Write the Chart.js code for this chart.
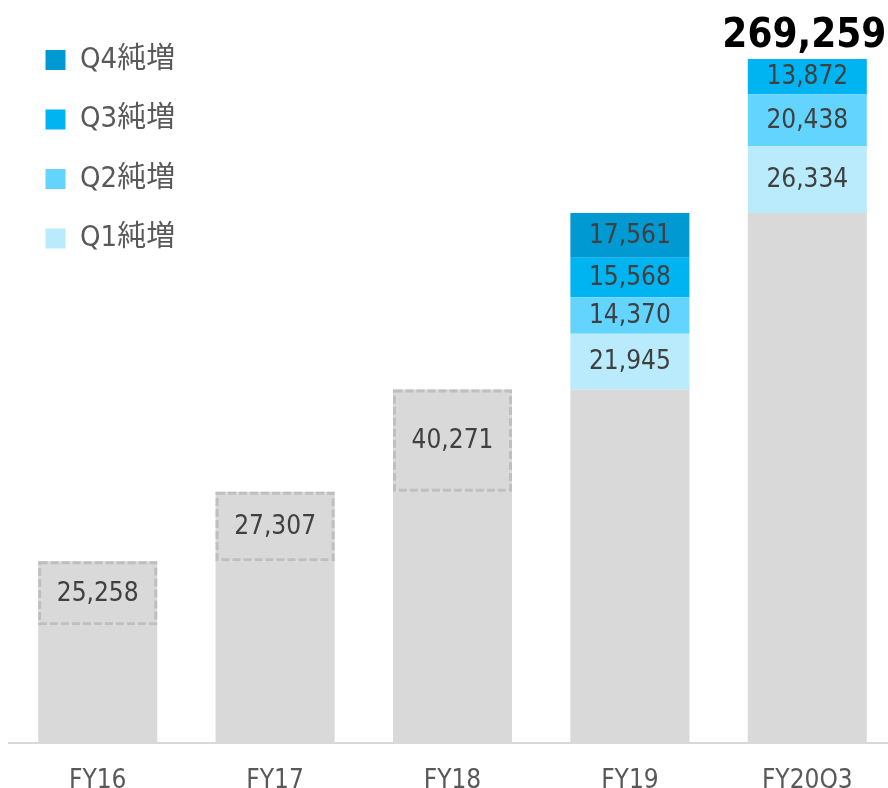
<!DOCTYPE html>
<html>
<head>
<meta charset="utf-8">
<script src="https://cdn.jsdelivr.net/npm/chart.js@4.4.1/dist/chart.umd.min.js"></script>
<style>
  html, body { margin: 0; padding: 0; background: #fff; }
  #wrap { width: 888px; height: 788px; position: relative; overflow: hidden; }
</style>
</head>
<body>
<!-- plot runs slightly past the right edge in the original, so the canvas is a bit wider and clipped -->
<div id="wrap"><canvas id="chart" width="896" height="788"></canvas></div>
<script>
const categories = ["FY16", "FY17", "FY18", "FY19", "FY20Q3"];
// cumulative count carried over from the previous periods (grey part)
const carriedOver = [46335, 71593, 98900, 139171, 208615];
const yearlyIncrease = [25258, 27307, 40271, null, null];
const q1Increase = [null, null, null, 21945, 26334];
const q2Increase = [null, null, null, 14370, 20438];
const q3Increase = [null, null, null, 15568, 13872];
const q4Increase = [null, null, null, 17561, null];
const totals = [null, null, null, null, 269259];
const seriesNames = ["Q1純増", "Q2純増", "Q3純増", "Q4純増"];

const FONT = "'DejaVu Sans Condensed', 'DejaVu Sans', 'Noto Sans CJK JP', sans-serif";

// bars can't have dashed borders, so stroke them on top
const dashedBoxes = {
  id: "dashedBoxes",
  afterDatasetsDraw(chart) {
    const ctx = chart.ctx;
    ctx.save();
    ctx.strokeStyle = "#bfbfbf";
    ctx.lineWidth = 3;
    ctx.setLineDash([8, 3]);
    chart.getDatasetMeta(1).data.forEach((bar, i) => {
      if (yearlyIncrease[i] == null) return;
      const { x, y, base, width } = bar.getProps(["x", "y", "base", "width"], true);
      ctx.strokeRect(x - width / 2 + 1.5, y + 1.5, width - 3, base - y - 3);
    });
    ctx.restore();
  }
};

const segmentLabels = {
  id: "segmentLabels",
  afterDatasetsDraw(chart) {
    const ctx = chart.ctx;
    ctx.save();
    ctx.font = "26px " + FONT;
    ctx.fillStyle = "#404040";
    ctx.textAlign = "center";
    ctx.textBaseline = "middle";
    chart.data.datasets.forEach((ds, di) => {
      if (di === 0) return;
      chart.getDatasetMeta(di).data.forEach((bar, i) => {
        const v = ds.data[i];
        if (v == null) return;
        const { x, y, base } = bar.getProps(["x", "y", "base"], true);
        ctx.fillText(v.toLocaleString("en-US"), x, (y + base) / 2 + 1);
      });
    });

    ctx.font = "bold 40px " + FONT;
    ctx.fillStyle = "#000";
    ctx.textBaseline = "alphabetic";
    totals.forEach((t, i) => {
      if (t == null) return;
      const x = chart.scales.x.getPixelForValue(i);
      const y = chart.scales.y.getPixelForValue(t);
      ctx.fillText(t.toLocaleString("en-US"), x - 3, y - 12);
    });
    ctx.restore();
  }
};

const legendOffset = {
  id: "legendOffset",
  afterLayout(chart) {
    chart.legend.left += 6;
    chart.legend.top += 15;
  }
};

const ctx = document.getElementById("chart").getContext("2d");
new Chart(ctx, {
  type: "bar",
  data: {
    labels: categories,
    datasets: [
      { label: "base", data: carriedOver, backgroundColor: "#d9d9d9" },
      { label: "increase", data: yearlyIncrease, backgroundColor: "#d9d9d9" },
      { label: seriesNames[0], data: q1Increase, backgroundColor: "#b9ebfd" },
      { label: seriesNames[1], data: q2Increase, backgroundColor: "#63d4fd" },
      { label: seriesNames[2], data: q3Increase, backgroundColor: "#00b4f2" },
      { label: seriesNames[3], data: q4Increase, backgroundColor: "#0099d1" }
    ].map(d => Object.assign(d, {
      borderWidth: 0,
      categoryPercentage: 1,
      barPercentage: 0.671
    }))
  },
  options: {
    responsive: false,
    animation: false,
    layout: { padding: { left: 9, right: 0, top: 15, bottom: 0 } },
    plugins: {
      tooltip: { enabled: false },
      legend: {
        position: "chartArea",
        align: "start",
        reverse: true,
        labels: {
          filter: item => item.datasetIndex >= 2,
          boxWidth: 20,
          boxHeight: 20,
          padding: 30.5,
          color: "#595959",
          font: { family: FONT, size: 29 }
        }
      }
    },
    scales: {
      x: {
        stacked: true,
        grid: { display: false, drawTicks: false },
        border: { color: "#d9d9d9", width: 2 },
        ticks: {
          color: "#595959",
          padding: 25,
          font: { family: FONT, size: 26, lineHeight: 1 }
        },
        afterFit(scale) {
          scale.height = 45;
        }
      },
      y: {
        stacked: true,
        display: false,
        min: 0,
        max: 286600
      }
    }
  },
  plugins: [dashedBoxes, segmentLabels, legendOffset]
});
</script>
</body>
</html>
